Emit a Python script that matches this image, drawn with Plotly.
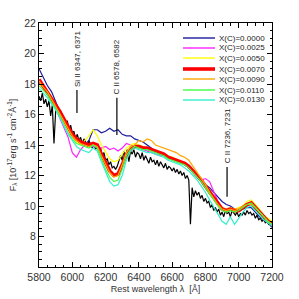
import plotly.graph_objects as go

# ---------------- data ----------------
wl_model = list(range(5800, 7201, 25))

flux_x0000 = [19.0, 18.4, 17.9, 17.5, 16.8, 16.2, 15.6, 15.1, 14.6, 14.3, 14.1, 14.0, 14.3, 15.0, 15.0, 14.8, 14.9, 15.1, 14.9, 15.0,
              14.7, 14.6, 14.6, 14.4, 14.3, 14.2, 14.0, 13.8, 13.6, 13.4, 13.3, 13.2,
              13.1, 13.0, 12.9, 12.7, 12.5, 12.2, 11.9, 11.6, 11.4, 11.2, 10.9, 10.6, 10.3, 10.1, 10.0, 9.8, 9.7, 9.8, 9.9, 9.9,
              9.6, 9.3, 9.1, 8.9, 8.6]
flux_x0025 = [18.1, 17.7, 17.3, 16.9, 16.4, 15.8, 15.2, 14.5, 13.5, 13.2, 13.7, 14.0, 14.0, 13.9, 13.9, 13.8, 13.9, 13.7, 13.8, 13.6,
              13.8, 14.1, 14.0, 13.9, 13.8, 13.7, 13.6, 13.5, 13.4, 13.3, 13.3, 13.2,
              13.1, 13.0, 12.9, 12.7, 12.5, 12.2, 11.9, 11.7, 11.8, 11.6, 10.9, 10.3, 9.9, 9.8, 9.9, 9.7, 9.7, 9.9, 10.0, 10.1,
              9.9, 9.6, 9.3, 9.1, 8.9]
flux_x0050 = [18.0, 17.8, 17.4, 16.9, 16.5, 16.0, 15.5, 15.0, 14.6, 14.2, 14.0, 14.3, 14.6, 15.0, 14.6, 14.0, 13.5, 13.1, 12.9, 13.0,
              13.4, 13.8, 14.0, 14.1, 14.0, 13.9, 13.8, 13.7, 13.6, 13.5, 13.4, 13.3,
              13.2, 13.1, 12.9, 12.8, 12.6, 12.3, 12.0, 11.6, 11.2, 10.8, 10.5, 10.2, 9.9, 9.8, 9.9, 9.8, 9.9, 10.0, 10.3, 10.4,
              10.1, 9.8, 9.4, 9.2, 9.0]
flux_x0070 = [18.3, 17.9, 17.5, 17.1, 16.7, 16.2, 15.7, 15.2, 14.7, 14.4, 14.2, 14.1, 14.0, 14.1, 14.0, 13.4, 12.8, 12.3, 12.0, 12.1,
              12.7, 13.4, 13.7, 13.9, 13.9, 13.8, 13.8, 13.7, 13.6, 13.5, 13.4, 13.2,
              13.1, 13.0, 12.9, 12.8, 12.6, 12.3, 12.0, 11.7, 11.3, 10.9, 10.5, 10.1, 9.8, 9.7, 9.8, 9.7, 9.7, 9.9, 10.1, 10.2,
              9.9, 9.6, 9.3, 9.0, 8.8]
flux_x0090 = [18.2, 17.8, 17.5, 17.0, 16.6, 16.1, 15.6, 15.1, 14.6, 14.3, 14.1, 14.0, 13.9, 14.0, 13.9, 13.3, 12.7, 12.2, 11.9, 12.0,
              12.7, 13.5, 13.9, 14.0, 14.3, 14.2, 14.4, 14.3, 14.0, 13.9, 13.8, 13.7,
              13.6, 13.5, 13.3, 13.2, 13.0, 12.6, 12.2, 11.8, 11.4, 10.9, 10.5, 10.1, 9.8, 9.7, 9.8, 9.7, 9.8, 10.0, 10.1, 10.1,
              9.9, 9.6, 9.3, 9.0, 8.8]
flux_x0110 = [17.9, 17.6, 17.3, 16.8, 16.4, 15.9, 15.3, 14.8, 14.4, 14.1, 14.0, 13.9, 13.8, 14.0, 13.8, 13.1, 12.4, 11.9, 11.6, 11.7,
              12.4, 13.3, 13.7, 13.9, 13.8, 13.7, 13.7, 13.6, 13.5, 13.4, 13.3, 13.1,
              13.0, 12.9, 12.8, 12.7, 12.5, 12.2, 11.9, 11.6, 11.2, 10.8, 10.4, 10.0, 9.7, 9.6, 9.7, 9.6, 9.7, 9.9, 10.1, 10.2,
              9.9, 9.6, 9.3, 9.0, 8.8]
flux_x0130 = [17.7, 17.4, 17.1, 16.7, 16.3, 15.8, 15.2, 14.7, 14.3, 13.9, 13.7, 13.6, 13.5, 13.8, 13.6, 12.9, 12.2, 11.6, 11.3, 11.4,
              12.0, 13.0, 13.6, 13.8, 13.7, 13.6, 13.5, 13.5, 13.4, 13.3, 13.2, 13.0,
              12.9, 12.8, 12.7, 12.5, 12.3, 12.0, 11.7, 11.3, 10.9, 10.4, 9.9, 9.4, 9.0, 8.8, 9.3, 8.8, 9.2, 9.6, 9.9, 10.0,
              9.7, 9.4, 9.1, 8.9, 8.7]

wl_obs = list(range(5800, 7201, 10))
flux_obs = [17.2, 16.9, 17.4, 16.7, 17.0, 16.5, 16.9, 15.9, 16.6, 14.1, 16.2, 16.4, 15.9, 16.2, 15.6, 15.8, 15.3, 15.6, 15.0, 15.3,
            14.8, 14.9, 14.4, 14.7, 14.3, 14.5, 14.1, 14.4, 14.2, 13.9, 14.3, 14.0, 13.8, 14.1, 13.7, 13.9, 13.6, 13.8, 13.3, 13.5,
            13.0, 13.1, 12.7, 12.9, 12.5, 12.6, 12.4, 12.6, 12.9, 13.3, 13.0, 13.6, 13.2, 13.7, 12.9, 13.6, 13.4, 13.7, 13.2, 13.5,
            13.4, 13.1, 13.5, 13.0, 13.3, 13.1, 12.8, 13.2, 12.9, 13.0, 12.7, 13.0, 12.6, 12.9, 12.7, 12.5, 12.8, 12.4, 12.6, 12.5,
            12.3, 12.5, 12.2, 12.4, 12.1, 12.3, 12.0, 12.2, 11.8, 12.0, 11.7, 8.8, 11.2, 10.6, 11.0, 10.7, 10.9, 10.5, 10.7, 10.3,
            10.5, 10.2, 10.3, 9.9, 10.1, 9.7, 9.9, 9.6, 9.8, 9.4, 9.6, 9.3, 9.7, 9.5, 9.6, 9.3, 9.7, 9.5, 9.4, 9.6,
            9.3, 9.5, 9.4, 9.6, 9.4, 9.7, 9.5, 9.6, 9.4, 9.5, 9.2, 9.4, 9.1, 9.2, 9.0, 9.1, 8.9, 9.0, 8.8, 8.9, 8.7]

model_names = ["X(C)=0.0000", "X(C)=0.0025", "X(C)=0.0050", "X(C)=0.0070",
               "X(C)=0.0090", "X(C)=0.0110", "X(C)=0.0130"]
model_fluxes = [flux_x0000, flux_x0025, flux_x0050, flux_x0070, flux_x0090, flux_x0110, flux_x0130]
model_colors = ["#1c1c9c", "#ff22ff", "#ffff00", "#ff0000", "#ffa500", "#44ff44", "#33f0cc"]
model_widths = [1.2, 1.2, 1.2, 3.6, 1.2, 1.2, 1.2]

x_ticks = [5800, 6000, 6200, 6400, 6600, 6800, 7000, 7200]
y_ticks = [8, 10, 12, 14, 16, 18, 20, 22]

line_ids = [("Si II 6347, 6371", 6028, 16.1, 17.6),
            ("C II 6578, 6582", 6268, 14.65, 17.1),
            ("C II 7236, 7231", 6930, 10.6, 12.55)]

# ---------------- figure ----------------
fig = go.Figure()
fig.add_trace(go.Scatter(x=wl_obs, y=flux_obs, mode="lines",
                         line=dict(color="black", width=1.2), showlegend=False))
for name, f, c, w in zip(model_names, model_fluxes, model_colors, model_widths):
    fig.add_trace(go.Scatter(x=wl_model, y=f, mode="lines", name=name,
                             line=dict(color=c, width=w), showlegend=False))

# line identification markers
for label, xl, y0, y1 in line_ids:
    fig.add_shape(type="line", xref="x", yref="y", x0=xl, x1=xl, y0=y0, y1=y1,
                  line=dict(color="black", width=1.2))
    fig.add_annotation(x=xl, y=y1 + 0.1, xref="x", yref="y", text=label, textangle=-90,
                       showarrow=False, xanchor="center", yanchor="bottom",
                       font=dict(size=8, color="#222"))

# compact legend
leg_y = [38, 48, 58, 69, 79, 90, 100]
for name, c, w, py in zip(model_names, model_colors, model_widths, leg_y):
    yp = (267 - py) / 244
    fig.add_shape(type="line", xref="paper", yref="paper", x0=(183 - 39) / 233, x1=(215 - 39) / 233,
                  y0=yp, y1=yp, line=dict(color=c, width=w if w > 2 else 1.4))
    fig.add_annotation(x=(217 - 39) / 233, y=yp, xref="paper", yref="paper", text=name,
                       showarrow=False, xanchor="left", yanchor="middle",
                       font=dict(size=8, color="#222"))

axis_common = dict(showline=True, linecolor="black", linewidth=1, mirror="ticks",
                   ticks="inside", ticklen=5, tickcolor="black", showgrid=False, zeroline=False,
                   automargin=False, tickfont=dict(size=10.5, color="#333"))

fig.update_xaxes(range=[5800, 7200], tickvals=x_ticks, ticktext=[str(v) for v in x_ticks],
                 minor=dict(ticks="inside", ticklen=2.5, dtick=50, tick0=5800, tickcolor="black"),
                 title=dict(text="Rest wavelength λ  [Å]", font=dict(size=9, color="#333"), standoff=4),
                 **axis_common)
fig.update_yaxes(range=[6, 22], tickvals=y_ticks, ticktext=[str(v) for v in y_ticks],
                 minor=dict(ticks="inside", ticklen=2.5, dtick=0.5, tick0=6, tickcolor="black"),
                 title=dict(text="F<sub>λ</sub> [10<sup>-17</sup>erg s<sup>-1</sup> cm<sup>-2</sup>Å<sup>-1</sup>]",
                            font=dict(size=9, color="#333"), standoff=6),
                 **axis_common)

fig.update_layout(width=299, height=299, margin=dict(l=39, r=27, t=23, b=32),
                  paper_bgcolor="white", plot_bgcolor="white",
                  font=dict(family="Liberation Sans, Arial, sans-serif", color="#333"),
                  showlegend=False, hovermode=False)

fig.write_html("out.html", config={"displayModeBar": False},
               post_script="document.body.style.margin='0px';")
